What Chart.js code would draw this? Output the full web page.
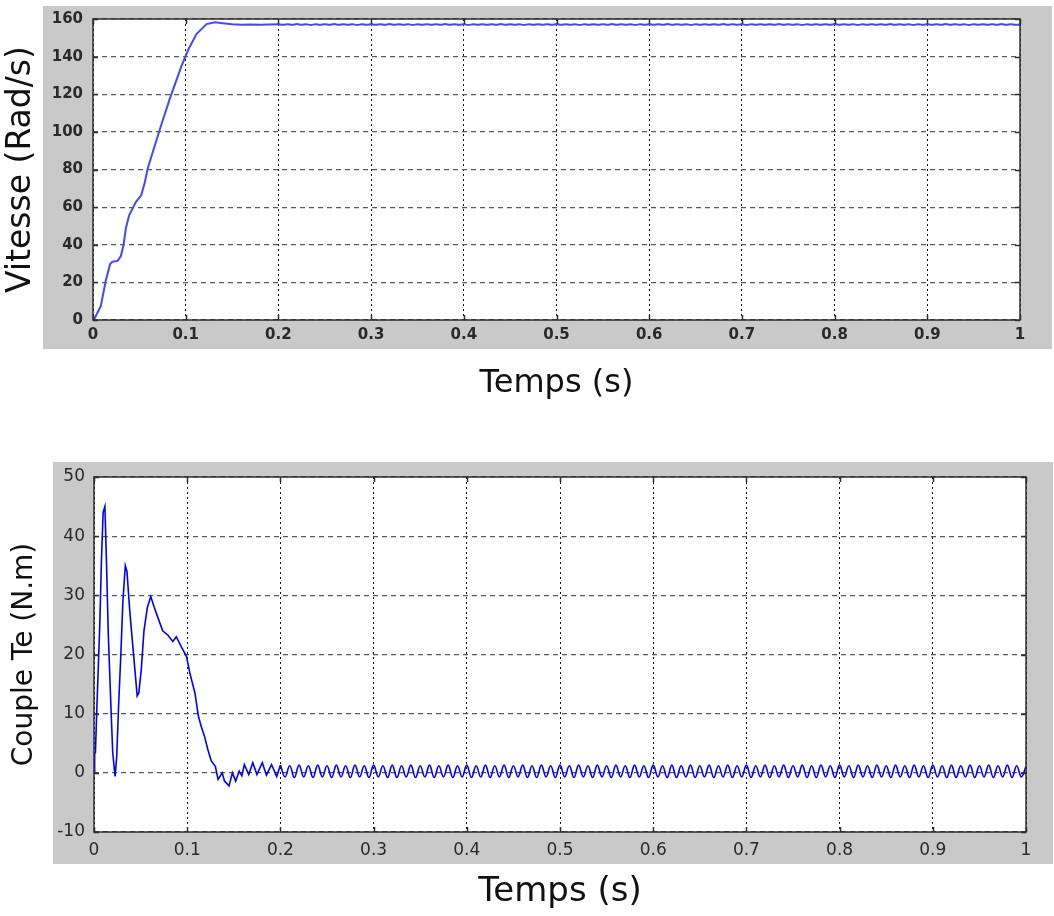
<!DOCTYPE html>
<html><head><meta charset="utf-8">
<script src="https://cdn.jsdelivr.net/npm/chart.js@4.4.1/dist/chart.umd.min.js"></script>
<style>
html,body{margin:0;padding:0;background:#fff;width:1054px;height:916px;overflow:hidden}
canvas{position:absolute;left:0}
#c1{top:0}
#c2{top:440px}
</style></head><body>
<canvas id="c1" width="1054" height="430"></canvas>
<canvas id="c2" width="1054" height="476"></canvas>
<script>
// ---------- data ----------
const xTickValues = [0,0.1,0.2,0.3,0.4,0.5,0.6,0.7,0.8,0.9,1];
const xTickLabels = ['0','0.1','0.2','0.3','0.4','0.5','0.6','0.7','0.8','0.9','1'];
const speedTickValues = [0,20,40,60,80,100,120,140,160];
const speedTickLabels = ['0','20','40','60','80','100','120','140','160'];
const torqueTickValues = [-10,0,10,20,30,40,50];
const torqueTickLabels = ['-10','0','10','20','30','40','50'];

// speed, start-up transient
const speedTime = [0,0.0014,0.0084,0.0138,0.0185,0.021,0.0265,0.0301,0.033,0.0355,0.0391,0.0464,0.052,0.0558,0.059,0.0717,0.0826,0.0953,0.1026,0.1116,0.1225,0.1315,0.14,0.15,0.16,0.17,0.18,0.19,0.2];
const speedValue = [0,0.5,7.3,21,29.7,31,31.4,34,40,48.9,55.8,62.8,66.3,73,80.5,100.7,117.3,134.8,143.5,152,157.3,158.3,157.8,157.2,157,157.1,157,157.1,157.2];

// torque, start-up transient
const torqueTime = [0,0.0007,0.0015,0.0033,0.0062,0.008,0.0098,0.0117,0.0135,0.0153,0.0182,0.0201,0.0226,0.0244,0.0263,0.0288,0.031,0.0336,0.0354,0.0383,0.0419,0.0445,0.0463,0.0481,0.0507,0.0536,0.0573,0.0609,0.0646,0.0682,0.0737,0.0791,0.0846,0.0883,0.0937,0.0992,0.1028,0.1083,0.112,0.1149,0.1185,0.1222,0.1258,0.1302,0.1331,0.1376,0.140,0.1449,0.1485,0.152,0.1558,0.1587,0.1613,0.166,0.1704,0.1748,0.1806,0.185,0.1905,0.196,0.2];
const torqueValue = [0,3.4,3.4,12,25,36,44,45,35,23.6,11,3.4,-0.6,2.8,11,20,29,35,34,27.5,21,16.3,13,13.5,17.4,24,28,29.8,28,26.4,24,23.3,22.2,23,21.3,19.7,16.9,13.5,9.6,7.9,6.2,3.9,2,1.1,-1.1,0,-1.4,-2.2,0,-1.4,0.3,-0.5,1.4,-0.3,1.7,-0.3,1.7,-0.4,1.4,-0.6,1.3];

// steady state samples (shared time grid)
const steadyTime = [
0.200,0.205,0.210,0.215,0.220,0.225,0.230,0.235,0.240,0.245,
0.250,0.255,0.260,0.265,0.270,0.275,0.280,0.285,0.290,0.295,
0.300,0.305,0.310,0.315,0.320,0.325,0.330,0.335,0.340,0.345,
0.350,0.355,0.360,0.365,0.370,0.375,0.380,0.385,0.390,0.395,
0.400,0.405,0.410,0.415,0.420,0.425,0.430,0.435,0.440,0.445,
0.450,0.455,0.460,0.465,0.470,0.475,0.480,0.485,0.490,0.495,
0.500,0.505,0.510,0.515,0.520,0.525,0.530,0.535,0.540,0.545,
0.550,0.555,0.560,0.565,0.570,0.575,0.580,0.585,0.590,0.595,
0.600,0.605,0.610,0.615,0.620,0.625,0.630,0.635,0.640,0.645,
0.650,0.655,0.660,0.665,0.670,0.675,0.680,0.685,0.690,0.695,
0.700,0.705,0.710,0.715,0.720,0.725,0.730,0.735,0.740,0.745,
0.750,0.755,0.760,0.765,0.770,0.775,0.780,0.785,0.790,0.795,
0.800,0.805,0.810,0.815,0.820,0.825,0.830,0.835,0.840,0.845,
0.850,0.855,0.860,0.865,0.870,0.875,0.880,0.885,0.890,0.895,
0.900,0.905,0.910,0.915,0.920,0.925,0.930,0.935,0.940,0.945,
0.950,0.955,0.960,0.965,0.970,0.975,0.980,0.985,0.990,0.995,
1.000];
const speedSteady = [
157.2,156.9,157.2,156.9,157.3,156.9,157.2,156.8,157.2,156.9,
157.2,156.9,157.3,156.9,157.2,156.9,157.2,156.8,157.2,156.9,
157.2,156.9,157.2,156.9,157.3,156.9,157.2,156.9,157.2,156.8,
157.2,156.9,157.2,156.9,157.2,156.9,157.3,156.9,157.2,156.9,
157.2,156.8,157.2,156.9,157.2,156.9,157.2,156.9,157.3,156.9,
157.2,156.9,157.2,156.8,157.2,156.9,157.2,156.9,157.2,156.9,
157.3,156.9,157.2,156.9,157.2,156.8,157.2,156.9,157.2,156.9,
157.2,156.9,157.3,156.9,157.2,156.9,157.2,156.8,157.2,156.9,
157.2,156.9,157.2,156.9,157.3,156.9,157.2,156.9,157.2,156.8,
157.2,156.9,157.2,156.9,157.2,156.9,157.3,156.9,157.2,156.9,
157.2,156.8,157.2,156.9,157.2,156.9,157.2,156.9,157.3,156.9,
157.2,156.9,157.2,156.8,157.2,156.9,157.2,156.9,157.2,156.9,
157.3,156.9,157.2,156.9,157.2,156.8,157.2,156.9,157.2,156.9,
157.2,156.9,157.3,156.9,157.2,156.9,157.2,156.8,157.2,156.9,
157.2,156.9,157.2,156.9,157.3,156.9,157.2,156.9,157.2,156.8,
157.2,156.9,157.2,156.9,157.2,156.9,157.3,156.9,157.2,156.9,
157.1];
const torqueSteady = [
1.3,-0.7,1.2,-0.8,1.3,-0.7,1.2,-0.8,1.3,-0.7,
1.2,-0.8,1.3,-0.7,1.2,-0.8,1.3,-0.7,1.2,-0.8,
1.3,-0.7,1.2,-0.8,1.3,-0.8,1.2,-0.7,1.3,-0.8,
1.2,-0.7,1.3,-0.8,1.2,-0.7,1.3,-0.8,1.2,-0.7,
1.3,-0.8,1.2,-0.7,1.3,-0.8,1.2,-0.7,1.3,-0.8,
1.2,-0.7,1.3,-0.8,1.2,-0.8,1.3,-0.7,1.2,-0.8,
1.3,-0.7,1.2,-0.8,1.3,-0.7,1.2,-0.8,1.3,-0.7,
1.2,-0.8,1.3,-0.7,1.2,-0.8,1.3,-0.7,1.2,-0.8,
1.3,-0.7,1.2,-0.8,1.3,-0.8,1.2,-0.7,1.3,-0.8,
1.2,-0.7,1.3,-0.8,1.2,-0.7,1.3,-0.8,1.2,-0.7,
1.3,-0.8,1.2,-0.7,1.3,-0.8,1.2,-0.7,1.3,-0.8,
1.2,-0.7,1.3,-0.8,1.2,-0.8,1.3,-0.7,1.2,-0.8,
1.3,-0.7,1.2,-0.8,1.3,-0.7,1.2,-0.8,1.3,-0.7,
1.2,-0.8,1.3,-0.7,1.2,-0.8,1.3,-0.7,1.2,-0.8,
1.3,-0.7,1.2,-0.8,1.3,-0.8,1.2,-0.7,1.3,-0.8,
1.2,-0.7,1.3,-0.8,1.2,-0.7,1.3,-0.8,1.2,-0.7,
1.1];

// ---------- helpers ----------
function zip(ts, vs) { return ts.map((t, i) => ({x: t, y: vs[i]})); }

const matlabFrame = {
  id: 'matlabFrame',
  beforeDraw(chart, args, o) {
    const {ctx, chartArea: a} = chart;
    ctx.save();
    ctx.fillStyle = o.bg;
    ctx.fillRect(a.left - o.l, a.top - o.t, (a.right - a.left) + o.l + o.r, (a.bottom - a.top) + o.t + o.b);
    ctx.fillStyle = '#ffffff';
    ctx.fillRect(a.left, a.top, a.right - a.left, a.bottom - a.top);
    ctx.restore();
  },
  afterDraw(chart, args, o) {
    const {ctx, chartArea: a, scales} = chart;
    const x = scales.x, y = scales.y;
    ctx.save();
    ctx.strokeStyle = '#2e2e2e';
    ctx.lineWidth = 1.5;
    ctx.setLineDash([]);
    ctx.beginPath();
    x.ticks.forEach(t => {
      const px = Math.round(x.getPixelForValue(t.value)) + 0.5;
      ctx.moveTo(px, a.bottom); ctx.lineTo(px, a.bottom - 5);
      ctx.moveTo(px, a.top); ctx.lineTo(px, a.top + 5);
    });
    y.ticks.forEach(t => {
      const py = Math.round(y.getPixelForValue(t.value)) + 0.5;
      ctx.moveTo(a.left, py); ctx.lineTo(a.left + 5, py);
      ctx.moveTo(a.right, py); ctx.lineTo(a.right - 5, py);
    });
    ctx.stroke();
    ctx.strokeRect(a.left, a.top, a.right - a.left, a.bottom - a.top);
    ctx.restore();
  }
};

function makeChart(id, cfg) {
  const line = (data, tension) => ({
    data, borderColor: cfg.color, borderWidth: cfg.lineWidth,
    pointRadius: 0, fill: false, tension
  });
  return new Chart(document.getElementById(id), {
    type: 'line',
    data: { datasets: [line(cfg.transient, 0), line(cfg.steady, 0.4)] },
    options: {
      responsive: false,
      animation: false,
      devicePixelRatio: 1,
      events: [],
      parsing: false,
      layout: { padding: cfg.padding },
      plugins: {
        legend: { display: false },
        tooltip: { enabled: false },
        matlabFrame: cfg.frame
      },
      scales: {
        x: {
          type: 'linear', min: 0, max: 1,
          afterBuildTicks: s => { s.ticks = xTickValues.map(v => ({value: v})); },
          afterFit: s => { s.height = cfg.xHeight; },
          grid: { color: '#111', lineWidth: 1, drawTicks: false },
          border: { display: false, dash: [2, 3] },
          ticks: {
            autoSkip: false, maxRotation: 0, padding: cfg.xTickPad,
            color: '#2a2a2a', font: cfg.tickFont,
            callback: (v, i) => xTickLabels[i]
          },
          title: {
            display: true, text: 'Temps (s)', color: '#111',
            font: cfg.xTitleFont, padding: cfg.xTitlePad
          }
        },
        y: {
          type: 'linear', min: cfg.yMin, max: cfg.yMax,
          afterBuildTicks: s => { s.ticks = cfg.yTicks.map(v => ({value: v})); },
          afterFit: s => { s.width = cfg.yWidth; },
          grid: { color: '#5a5a5a', lineWidth: 1.2, drawTicks: false },
          border: { display: false, dash: [5, 4] },
          ticks: {
            autoSkip: false, padding: cfg.yTickPad,
            color: '#2a2a2a', font: cfg.tickFont,
            callback: (v, i) => cfg.yLabels[i]
          },
          title: {
            display: true, text: cfg.yTitle, color: '#111',
            font: cfg.yTitleFont, padding: cfg.yTitlePad
          }
        }
      }
    },
    plugins: [matlabFrame]
  });
}

// ---------- speed chart ----------
makeChart('c1', {
  transient: zip(speedTime, speedValue),
  steady: zip(steadyTime, speedSteady),
  color: 'rgb(70,70,255)', lineWidth: 2,
  padding: { left: 0, top: 16, right: 34, bottom: 0 },
  xHeight: 110, yWidth: 93,
  yMin: 0, yMax: 160, yTicks: speedTickValues, yLabels: speedTickLabels,
  tickFont: { family: 'DejaVu Sans', size: 15, weight: 'bold' },
  xTickPad: 6, yTickPad: 10,
  xTitleFont: { family: 'DejaVu Sans', size: 32, weight: 'normal' },
  xTitlePad: { top: 0, bottom: 27 },
  yTitle: 'Vitesse (Rad/s)',
  yTitleFont: { family: 'DejaVu Sans', size: 33, weight: 'normal' },
  yTitlePad: { top: 2, bottom: 0 },
  frame: { bg: '#c9c9c9', l: 50, t: 13, r: 32, b: 29 }
});

// ---------- torque chart ----------
makeChart('c2', {
  transient: zip(torqueTime, torqueValue),
  steady: zip(steadyTime, torqueSteady),
  color: 'rgb(0,0,255)', lineWidth: 1.6,
  padding: { left: 0, top: 37, right: 28, bottom: 0 },
  xHeight: 84, yWidth: 94,
  yMin: -10, yMax: 50, yTicks: torqueTickValues, yLabels: torqueTickLabels,
  tickFont: { family: 'DejaVu Sans', size: 17, weight: 'normal' },
  xTickPad: 8, yTickPad: 9,
  xTitleFont: { family: 'DejaVu Sans', size: 34, weight: 'normal' },
  xTitlePad: { top: 0, bottom: 3 },
  yTitle: 'Couple Te (N.m)',
  yTitleFont: { family: 'DejaVu Sans', size: 28, weight: 'normal' },
  yTitlePad: { top: 8, bottom: 0 },
  frame: { bg: '#c9c9c9', l: 41, t: 15, r: 27, b: 32 }
});
</script>
</body></html>
